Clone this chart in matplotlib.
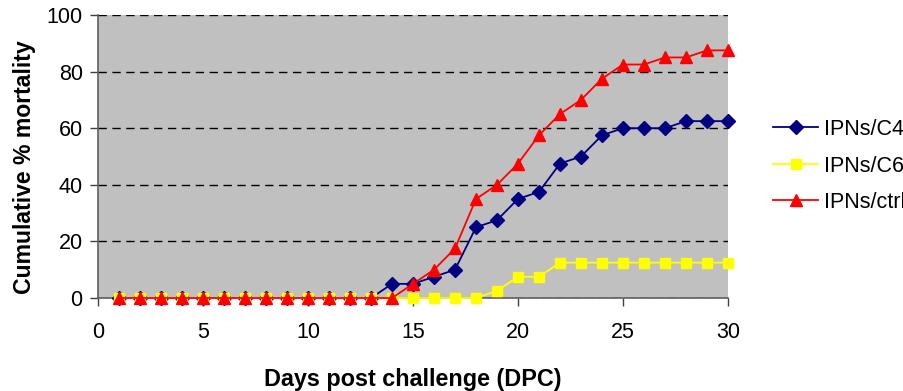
import matplotlib
matplotlib.use("Agg")
import matplotlib.pyplot as plt

days = list(range(1, 31))
c4 = [0]*13 + [5, 5, 7.5, 10, 25, 27.5, 35, 37.5, 47.5, 50, 57.5, 60, 60, 60, 62.5, 62.5, 62.5]
c6 = [0]*18 + [2.5, 7.5, 7.5, 12.5, 12.5, 12.5, 12.5, 12.5, 12.5, 12.5, 12.5, 12.5]
ctrl = [0]*14 + [5, 10, 17.5, 35, 40, 47.5, 57.5, 65, 70, 77.5, 82.5, 82.5, 85, 85, 87.5, 87.5]
labels = ["IPNs/C4", "IPNs/C6", "IPNs/ctrl"]
xticks = [0, 5, 10, 15, 20, 25, 30]
yticks = [0, 20, 40, 60, 80, 100]

plt.rcParams['font.family'] = ['Liberation Sans', 'DejaVu Sans']

fig = plt.figure(figsize=(9.04, 3.91), dpi=100)
ax = fig.add_axes([98/904, 1-298/391, 630/904, 283/391])
ax.set_facecolor('#C0C0C0')

ax.plot(days, c4, color='#000080', marker='D', markersize=7, lw=1.3, label=labels[0], clip_on=False, zorder=3)
ax.plot(days, c6, color='#FFFF00', marker='s', markersize=7, lw=1.3, label=labels[1], clip_on=False, zorder=4)
ax.plot(days, ctrl, color='#FF0000', marker='^', markersize=8.5, lw=1.3, label=labels[2], clip_on=False, zorder=5)

ax.set_xlim(0, 30)
ax.set_ylim(0, 100)
ax.set_xticks(xticks)
ax.set_yticks(yticks)
ax.yaxis.grid(True, color='black', linestyle=(0, (6, 4)), linewidth=1)
ax.set_axisbelow(True)
for s in ['top', 'right']:
    ax.spines[s].set_visible(False)
for s in ['left', 'bottom']:
    ax.spines[s].set_color('#606060')
    ax.spines[s].set_linewidth(1.2)
ax.tick_params(axis='both', direction='out', length=6, width=1, color='#404040', labelsize=15.5)
ax.tick_params(axis='x', pad=11)
ax.tick_params(axis='y', pad=5)

ax.set_xlabel('Days post challenge (DPC)', fontsize=16.8, fontweight='bold', labelpad=18)
ax.set_ylabel('Cumulative % mortality', fontsize=16.6, fontweight='bold')
ax.yaxis.set_label_coords(-0.098, 0.463)

leg = ax.legend(loc='center left', frameon=False, fontsize=15.5,
                handlelength=2.1, labelspacing=0.72, handletextpad=0.25, borderpad=0, borderaxespad=0)
leg.set_bbox_to_anchor((773/904, 1-166/391), transform=fig.transFigure)

fig.savefig('out.png', dpi=100)
